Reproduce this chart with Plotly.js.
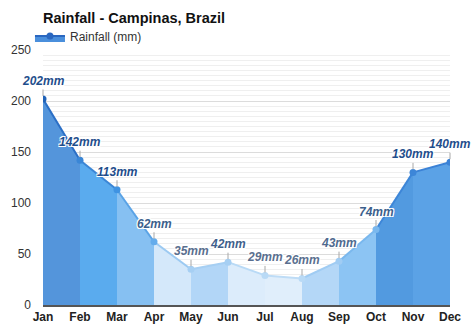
<!DOCTYPE html>
<html>
<head>
<meta charset="utf-8">
<script src="https://cdn.plot.ly/plotly-3.0.1.min.js"></script>
<style>html,body{margin:0;padding:0;background:#fff;}#chart{width:474px;height:331px;}</style>
</head>
<body>
<div id="chart"></div>
<script>
const months = ["Jan","Feb","Mar","Apr","May","Jun","Jul","Aug","Sep","Oct","Nov","Dec"];
const rainfall = [202,142,113,62,35,42,29,26,43,74,130,140];
const labels = ["202mm","142mm","113mm","62mm","35mm","42mm","29mm","26mm","43mm","74mm","130mm","140mm"];

// style arrays
const segFill = ["#5495db","#5aabee","#86c0f2","#d4e8fa","#b2d6f7","#dcecfb","#e0eefb","#b4d7f7","#8cc4f3","#529ae0","#5ba2e6"];
const segLine = ["#2b6fc6","#3b86d6","#5aa3e6","#9ccaf2","#a6cff3","#b9daf6","#bedcf6","#a0ccf3","#7ab8ee","#3d86d8","#3b82d6"];
const ptColor = ["#2062b8","#3a86d6","#3f93e2","#64acec","#a6cff3","#a6cff3","#b9daf6","#b9daf6","#a0ccf3","#7ab8ee","#3d86d8","#3b82d6"];
const lblColor = ["#1f4e8c","#1f4e8c","#1f4e8c","#3c5f8c","#5a6f8f","#3f5f8c","#5a6f8f","#5a6f8f","#4f6a8f","#3c5f8c","#1f4e8c","#1f4e8c"];

const traces = [];
for (let i = 0; i < months.length - 1; i++) {
  traces.push({
    type: "scatter",
    x: [months[i], months[i+1]],
    y: [rainfall[i], rainfall[i+1]],
    mode: "lines",
    fill: "tozeroy",
    fillcolor: segFill[i],
    line: {color: segLine[i], width: 2},
    name: "Rainfall (mm)",
    showlegend: false,
    hoverinfo: "skip"
  });
}
traces.push({
  type: "scatter",
  x: months,
  y: rainfall,
  mode: "markers",
  marker: {color: ptColor, size: 7},
  showlegend: false,
  hoverinfo: "skip"
});
// legend-only trace
traces.push({
  type: "scatter",
  x: [null],
  y: [null],
  mode: "lines+markers",
  fill: "tozeroy",
  fillcolor: "#4a8fdc",
  line: {color: "#2a67c0", width: 2},
  marker: {color: "#2a67c0", size: 7},
  name: "Rainfall (mm)",
  showlegend: true
});

const shadow = "1px 1px 0 #fff, -1px -1px 0 #fff, 1px -1px 0 #fff, -1px 1px 0 #fff";
const annotations = months.map((m, i) => ({
  x: m, y: rainfall[i], xref: "x", yref: "y",
  text: labels[i],
  showarrow: true, arrowhead: 0, arrowwidth: 1, arrowcolor: "#a8a8a8",
  ax: 0, ay: -18, standoff: 3,
  font: {family: "Liberation Sans, Arial, sans-serif", size: 12, color: lblColor[i], weight: "bold", style: "italic", shadow: shadow}
}));

const layout = {
  width: 474, height: 331,
  margin: {l: 43, r: 24, t: 50, b: 26},
  paper_bgcolor: "#fff", plot_bgcolor: "#fff",
  font: {family: "Liberation Sans, Arial, sans-serif", color: "#333"},
  title: {text: "<b>Rainfall - Campinas, Brazil</b>", x: 43/474, xanchor: "left", y: 0.945, yanchor: "middle",
          font: {size: 14.5, color: "#111", family: "Liberation Sans, Arial, sans-serif"}},
  showlegend: true,
  legend: {x: -0.032, xanchor: "left", y: 1.055, yanchor: "middle", orientation: "h",
           font: {size: 12, color: "#333"}, bgcolor: "rgba(0,0,0,0)", itemwidth: 30},
  xaxis: {
    type: "category", range: [0, 11], fixedrange: true,
    showgrid: false, showline: true, linecolor: "#555", linewidth: 1.5,
    ticks: "", tickfont: {size: 12, color: "#222", weight: "bold"},
    zeroline: false
  },
  yaxis: {
    range: [0, 250], dtick: 50, tick0: 0, fixedrange: true,
    showgrid: true, gridcolor: "#dcdcdc", gridwidth: 1,
    minor: {dtick: 5, showgrid: true, gridcolor: "#efefef", gridwidth: 1},
    zeroline: false, showline: false, ticks: "",
    tickfont: {size: 12, color: "#333"}, ticklabelstandoff: 11
  },
  annotations: annotations
};

Plotly.newPlot("chart", traces, layout, {displayModeBar: false, staticPlot: true});
</script>
</body>
</html>
